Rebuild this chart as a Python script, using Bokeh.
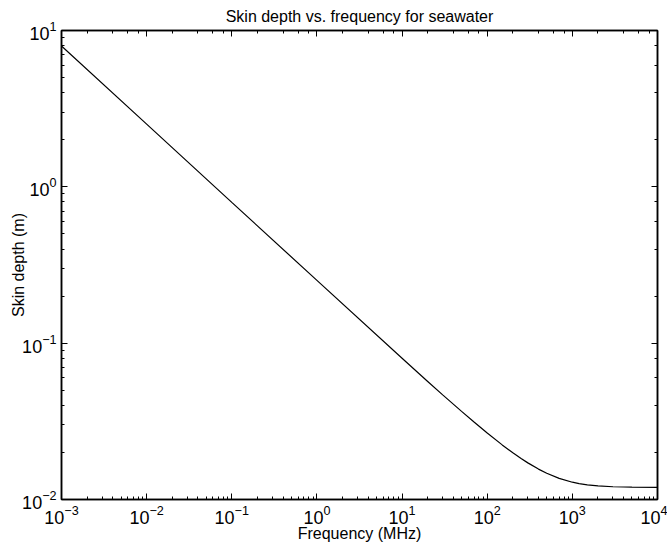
from bokeh.plotting import figure
from bokeh.models import LogAxis, LogTicker, CustomJSTickFormatter
from bokeh.embed import file_html
from bokeh.resources import INLINE

freq_mhz = [0.001, 0.01, 0.1, 1, 10, 20, 30, 50, 70, 100, 150, 200, 250, 300, 400,
            500, 700, 1000, 1200, 1500, 2000, 3000, 4000, 5000, 10000]
depth_m = [7.96, 2.52, 0.796, 0.252, 0.0800, 0.0569, 0.0467, 0.0366, 0.0313, 0.0266,
           0.02235, 0.0199, 0.01829, 0.01715, 0.01565, 0.01472, 0.01366, 0.0129,
           0.01265, 0.01242, 0.01222, 0.01207, 0.01202, 0.01199, 0.01196]

title_text = "Skin depth vs. frequency for seawater"
x_label = "Frequency (MHz)"
y_label = "Skin depth (m)"

FONT = "Liberation Sans"

p = figure(frame_width=596, frame_height=469, x_axis_type="log", y_axis_type="log",
           x_range=(1e-3, 1e4), y_range=(1e-2, 1e1),
           output_backend="svg", toolbar_location=None,
           title=title_text, min_border_left=0, min_border_right=10,
           min_border_top=0, min_border_bottom=0)

p.line(freq_mhz, depth_m, line_color="black", line_width=1.2)

p.xgrid.visible = False
p.ygrid.visible = False
p.outline_line_color = "black"
p.outline_line_width = 1.5
p.background_fill_color = "white"
p.border_fill_color = "white"

p.title.align = "center"
p.title.text_font = FONT
p.title.text_font_style = "normal"
p.title.text_font_size = "16px"
p.title.text_color = "black"
p.title.standoff = 11

for ax in (p.xaxis[0], p.yaxis[0]):
    ax.major_tick_in = 6
    ax.major_tick_out = 0
    ax.minor_tick_in = 3
    ax.minor_tick_out = 0
    ax.axis_line_color = "black"
    ax.axis_line_width = 1.5
    ax.major_tick_line_color = "black"
    ax.minor_tick_line_color = "black"
    ax.major_label_text_font = FONT
    ax.major_label_text_font_size = "18px"
    ax.major_label_text_color = "black"
    ax.major_label_standoff = 5
    ax.axis_label_text_font = FONT
    ax.axis_label_text_font_style = "normal"
    ax.axis_label_text_font_size = "16px"
    ax.axis_label_text_color = "black"
    ax.axis_label_standoff = 0

p.xaxis[0].major_label_standoff = 5
p.xaxis[0].axis_label_standoff = -2
p.xaxis[0].axis_label = x_label
p.yaxis[0].axis_label = y_label
p.yaxis[0].axis_label_standoff = -8

# invisible spacer axis on the far left keeps the frame in place
pad = LogAxis(ticker=LogTicker(), formatter=CustomJSTickFormatter(code="return ''"))
pad.major_tick_in = 0
pad.major_tick_out = 7
pad.minor_tick_in = 0
pad.minor_tick_out = 0
pad.major_label_standoff = 0
pad.major_label_text_font_size = "1px"
pad.axis_line_color = None
pad.major_tick_line_color = None
pad.minor_tick_line_color = None
p.add_layout(pad, "left")

top = LogAxis(ticker=LogTicker(), formatter=CustomJSTickFormatter(code="return ''"))
right = LogAxis(ticker=LogTicker(), formatter=CustomJSTickFormatter(code="return ''"))
for ax in (top, right):
    ax.major_tick_in = 6
    ax.major_tick_out = 0
    ax.minor_tick_in = 3
    ax.minor_tick_out = 0
    ax.major_label_standoff = 0
    ax.axis_line_color = "black"
    ax.axis_line_width = 1.5
    ax.major_label_text_font_size = "1px"
p.add_layout(top, "above")
p.add_layout(right, "right")

open("out.html", "w").write(file_html(p, INLINE))
